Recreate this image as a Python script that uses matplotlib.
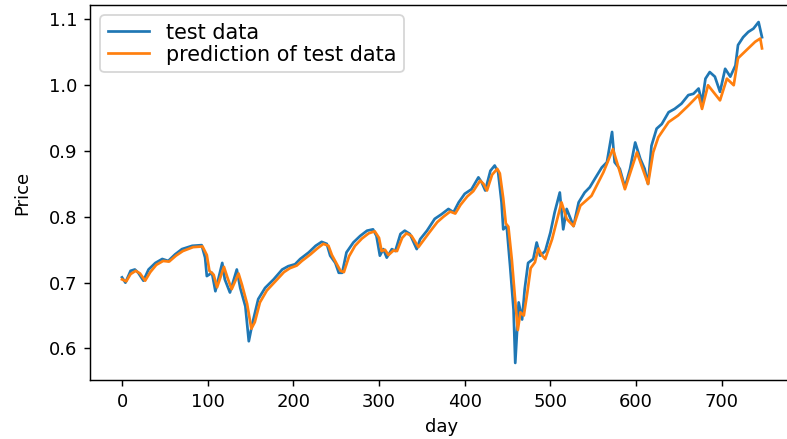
import matplotlib
matplotlib.use('Agg')
import matplotlib.pyplot as plt

# test data (day, price)
test_days = [0, 4, 10, 15, 19, 25, 31, 39, 47, 54, 62, 70, 82, 93, 97, 99, 105, 109,
             117, 120, 126, 134, 138, 144, 148, 152, 159, 167, 177, 187, 194, 202, 208,
             218, 226, 233, 239, 243, 249, 253, 257, 262, 270, 278, 286, 293, 297, 301,
             305, 309, 315, 319, 325, 330, 336, 344, 348, 356, 365, 373, 381, 387, 393,
             400, 408, 416, 420, 424, 430, 435, 439, 443, 445, 449, 453, 457, 459, 463,
             467, 470, 474, 480, 484, 488, 494, 500, 505, 511, 515, 519, 527, 533, 540,
             546, 552, 560, 566, 572, 575, 581, 587, 593, 599, 605, 610, 614, 618, 624,
             630, 638, 645, 653, 661, 667, 673, 677, 681, 686, 692, 698, 704, 710, 716,
             719, 725, 731, 737, 743, 747]
test_price = [0.708, 0.700, 0.718, 0.720, 0.715, 0.703, 0.720, 0.730, 0.736, 0.733,
              0.743, 0.751, 0.756, 0.757, 0.738, 0.710, 0.715, 0.687, 0.730, 0.705,
              0.685, 0.720, 0.692, 0.664, 0.611, 0.637, 0.675, 0.692, 0.705, 0.720,
              0.725, 0.728, 0.736, 0.746, 0.756, 0.762, 0.759, 0.741, 0.730, 0.715,
              0.715, 0.746, 0.761, 0.771, 0.779, 0.781, 0.771, 0.741, 0.751, 0.738,
              0.751, 0.748, 0.774, 0.779, 0.774, 0.751, 0.766, 0.779, 0.797, 0.804,
              0.812, 0.807, 0.822, 0.835, 0.842, 0.860, 0.852, 0.840, 0.870, 0.878,
              0.868, 0.822, 0.781, 0.786, 0.725, 0.659, 0.578, 0.670, 0.644, 0.690,
              0.730, 0.736, 0.761, 0.741, 0.748, 0.776, 0.807, 0.837, 0.781, 0.812,
              0.786, 0.822, 0.837, 0.845, 0.858, 0.875, 0.883, 0.929, 0.883, 0.873,
              0.845, 0.873, 0.913, 0.888, 0.873, 0.850, 0.908, 0.934, 0.941, 0.959,
              0.964, 0.972, 0.985, 0.987, 0.995, 0.974, 1.010, 1.020, 1.013, 0.990,
              1.025, 1.013, 1.030, 1.061, 1.073, 1.081, 1.086, 1.096, 1.073]

# prediction of test data (day, price)
pred_days = [0, 5, 10, 16, 21, 27, 33, 40, 48, 55, 63, 71, 83, 94, 99, 102, 107, 111,
             119, 123, 128, 136, 140, 146, 151, 155, 161, 169, 179, 189, 196, 204, 210,
             220, 228, 235, 241, 245, 255, 259, 265, 272, 280, 288, 295, 300, 303, 307,
             311, 317, 321, 327, 332, 338, 346, 350, 358, 368, 375, 383, 389, 395, 403,
             410, 418, 422, 426, 432, 438, 441, 445, 448, 451, 455, 459, 462, 465, 469,
             473, 477, 482, 486, 490, 494, 502, 513, 519, 527, 535, 548, 562, 573, 580,
             587, 601, 614, 620, 626, 638, 649, 661, 673, 677, 684, 698, 706, 714, 719,
             727, 739, 745, 747]
pred_price = [0.705, 0.702, 0.713, 0.718, 0.714, 0.703, 0.716, 0.727, 0.733, 0.732,
              0.741, 0.748, 0.754, 0.755, 0.742, 0.718, 0.712, 0.693, 0.724, 0.708,
              0.690, 0.714, 0.697, 0.668, 0.630, 0.640, 0.670, 0.688, 0.702, 0.716,
              0.722, 0.726, 0.733, 0.743, 0.752, 0.759, 0.756, 0.742, 0.718, 0.716,
              0.740, 0.756, 0.767, 0.775, 0.778, 0.768, 0.748, 0.750, 0.742, 0.749,
              0.748, 0.768, 0.775, 0.771, 0.754, 0.761, 0.775, 0.792, 0.800, 0.808,
              0.805, 0.818, 0.831, 0.839, 0.855, 0.850, 0.840, 0.864, 0.873, 0.866,
              0.828, 0.790, 0.785, 0.735, 0.672, 0.628, 0.655, 0.650, 0.684, 0.722,
              0.731, 0.752, 0.742, 0.736, 0.766, 0.822, 0.797, 0.786, 0.817, 0.832,
              0.868, 0.903, 0.873, 0.842, 0.898, 0.850, 0.898, 0.921, 0.944, 0.954,
              0.969, 0.985, 0.964, 1.000, 0.977, 1.010, 1.000, 1.041, 1.051, 1.066,
              1.071, 1.056]

fig = plt.figure(figsize=(787 / 130, 439 / 130), dpi=130)
# the reference is cropped on the right, so the axes run slightly past the figure edge
ax = fig.add_axes([90 / 787, 59 / 439, 704 / 787, 375 / 439])

ax.plot(test_days, test_price, label="test data")
ax.plot(pred_days, pred_price, label="prediction of test data")
ax.set_xlabel("day")
ax.set_ylabel("Price", labelpad=10)
ax.legend(loc="upper left", fontsize=11.5, labelspacing=0.1, borderpad=0.35)

fig.savefig("out.png", dpi=130)
plt.close(fig)
